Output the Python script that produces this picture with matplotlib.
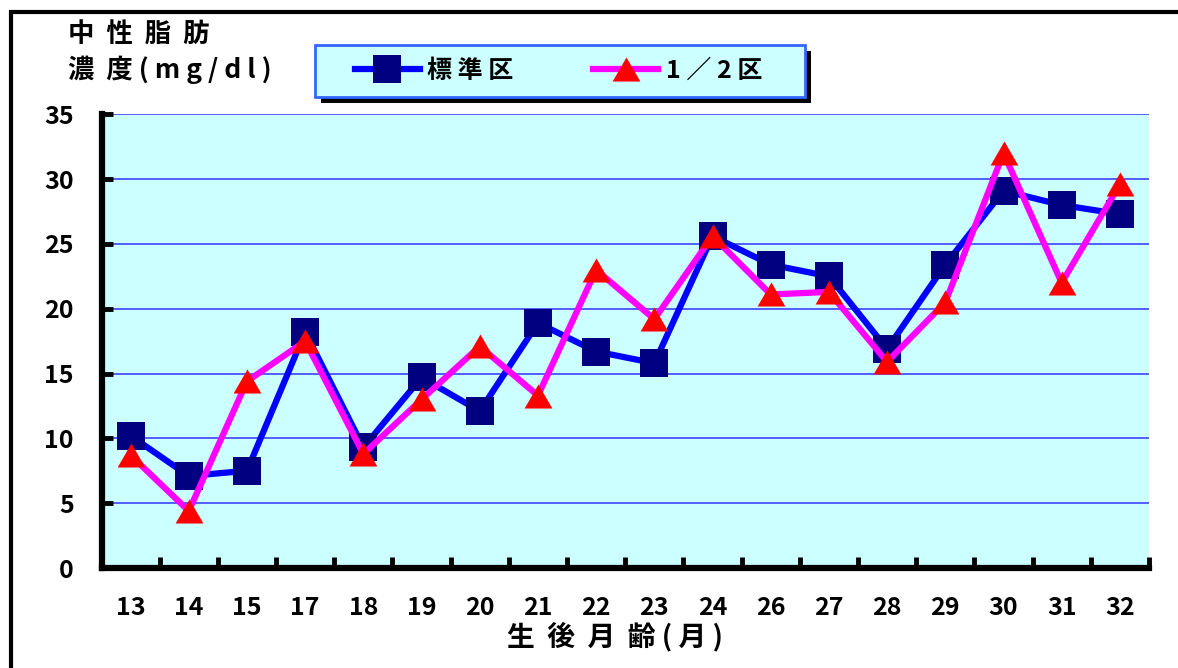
import matplotlib
matplotlib.use("Agg")
import matplotlib.pyplot as plt
from matplotlib.patches import Rectangle

plt.rcParams['font.family'] = ['Noto Sans CJK JP', 'DejaVu Sans']
plt.rcParams['font.weight'] = 'bold'

# data
months = ['13', '14', '15', '17', '18', '19', '20', '21', '22',
          '23', '24', '26', '27', '28', '29', '30', '31', '32']
standard = [10.2, 7.1, 7.5, 18.2, 9.3, 14.7, 12.1, 18.9, 16.7,
            15.8, 25.6, 23.4, 22.5, 16.9, 23.4, 29.1, 28.0, 27.3]
half = [8.7, 4.4, 14.4, 17.5, 8.8, 13.0, 17.1, 13.3, 23.0,
        19.2, 25.6, 21.1, 21.3, 15.9, 20.5, 32.0, 22.0, 29.6]
yticks = [0, 5, 10, 15, 20, 25, 30, 35]
series_labels = ['標 準 区', '1 ／ 2 区']

W, H = 1178, 668
fig = plt.figure(figsize=(W / 100, H / 100), dpi=100)
ax = fig.add_axes([101.5 / W, 1 - 568 / H, (1149 - 101.5) / W, (568 - 114.3) / H])
ax.set_facecolor('#ccffff')

x = list(range(len(months)))
tri = [(-1, -0.866), (1, -0.866), (0, 0.866)]
ax.plot(x, standard, color='#0000ff', lw=4.5, marker='s', ms=20,
        mfc='#000080', mec='#000080', mew=0, label=series_labels[0], zorder=3)
ax.plot(x, half, color='#ff00ff', lw=4.5, marker=tri, ms=20,
        mfc='#ff0000', mec='#ff0000', mew=0, label=series_labels[1], zorder=4)

ax.set_xlim(-0.5, len(months) - 0.5)
ax.set_ylim(0, 35)
ax.set_yticks(yticks)
ax.set_xticks(x)
ax.set_xticklabels(months)
ax.set_xticks([i + 0.5 for i in x], minor=True)
for yv in yticks[1:]:
    ax.axhline(yv, color='#3333ff', lw=1.1, zorder=1)

for side in ['top', 'right']:
    ax.spines[side].set_visible(False)
for side in ['left', 'bottom']:
    ax.spines[side].set_linewidth(4.5)
    ax.spines[side].set_color('black')

ax.tick_params(axis='y', direction='in', length=8, width=3.5, pad=20, labelsize=18)
ax.tick_params(axis='x', which='major', length=0, pad=20, labelsize=18)
ax.tick_params(axis='x', which='minor', direction='in', length=8, width=3.5)

ax.set_xlabel('生  後  月  齢 ( 月 )', fontsize=20, fontweight='bold')
ax.xaxis.set_label_coords(0.490, -0.118)

fig.text(68 / W, 1 - 21 / H, '中  性  脂  肪\n濃  度 ( m g / d l )', va='top', ha='left',
         fontsize=19, linespacing=1.35)

# outer frame
fig.patches.append(Rectangle((10.5 / W, -0.1), 1.2, 1.1 - 12 / H, transform=fig.transFigure,
                             fill=False, edgecolor='black', lw=3, zorder=-1))

# legend box with shadow
fig.patches.append(Rectangle((321 / W, 1 - 103 / H), 490 / W, 52 / H, transform=fig.transFigure,
                             facecolor='black', edgecolor='black', lw=0, zorder=-1))
fig.patches.append(Rectangle((315 / W, 1 - 97 / H), 490 / W, 52 / H, transform=fig.transFigure,
                             facecolor='#ccffff', edgecolor='#3366ff', lw=2, zorder=-1))
leg = ax.legend(loc='center', bbox_to_anchor=(558.5 / W, 1 - 71 / H), bbox_transform=fig.transFigure,
                ncol=2, frameon=False, fontsize=18, handlelength=2.6, handletextpad=0.3,
                columnspacing=3.2)

fig.savefig('out.png', dpi=100)
